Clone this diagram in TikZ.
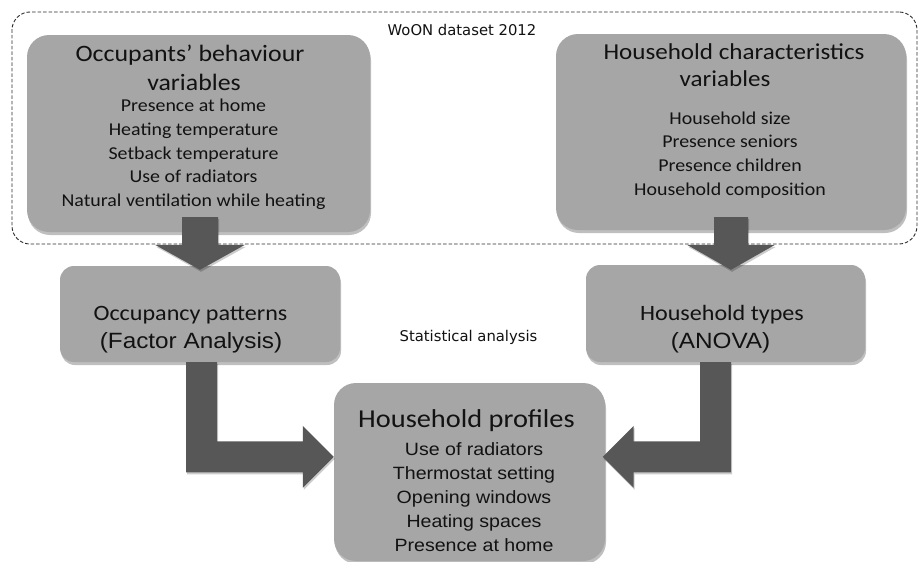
\documentclass[tikz,border=0pt]{standalone}
\usepackage{fontspec}
\setmainfont{Carlito}[FakeStretch=1.1]
\newfontfamily\arialf{Liberation Sans}[FakeStretch=1.1]
\newfontfamily\dvs{DejaVu Sans}
\usetikzlibrary{calc,shadows}
\definecolor{boxgray}{RGB}{166,166,166}
\definecolor{arrgray}{RGB}{87,87,87}
\definecolor{txtc}{RGB}{18,18,18}
\definecolor{dashc}{RGB}{45,45,45}
\tikzset{
  bigbox/.style={draw=none, fill=boxgray, rounded corners=22pt, inner sep=0pt,
    drop shadow={shadow xshift=1pt, shadow yshift=-3pt, opacity=0.25, fill=black}},
  midbox/.style={bigbox, rounded corners=14pt},
  wbox/.style={draw=dashc, line width=0.9pt, dash pattern=on 3.5pt off 2pt, rounded corners=18pt, inner sep=0pt},
  blockarrow/.style={fill=arrgray,
    drop shadow={shadow xshift=1pt, shadow yshift=-2pt, opacity=0.2, fill=black}},
  ln/.style={inner sep=0pt, anchor=base, text=txtc},
  ttl/.style={ln, font=\fontsize{22.8}{22.8}\selectfont},
  lst/.style={ln, font=\fontsize{18.1}{18.1}\selectfont},
  mtl/.style={ln, font=\fontsize{21.9}{21.9}\selectfont},
  mar/.style={ln, font=\arialf\fontsize{22.1}{22.1}\selectfont},
  ptl/.style={ln, font=\fontsize{25.8}{25.8}\selectfont},
  par/.style={ln, font=\arialf\fontsize{17.8}{17.8}\selectfont},
  note/.style={ln, font=\dvs\fontsize{14.8}{14.8}\selectfont}
}
\begin{document}
\begin{tikzpicture}[x=1pt,y=-1pt]
\useasboundingbox[fill=white] (0,0) rectangle (918,562);
% dashed frame
\node[wbox, minimum width=905pt, minimum height=232pt] (woon) at (464.5,128) {};
% boxes
\node[bigbox, minimum width=343pt, minimum height=197pt] (beh) at (198.5,133.5) {};
\node[bigbox, minimum width=350pt, minimum height=196pt] (hhc) at (731,132) {};
\node[midbox, minimum width=280pt, minimum height=96pt] (occ) at (200,314) {};
\node[midbox, minimum width=279pt, minimum height=97pt] (hht) at (725.5,313.5) {};
\node[bigbox, minimum width=271pt, minimum height=178pt] (prof) at (469.5,472) {};
% down arrows
\fill[blockarrow] let \p1=($(occ.north)+(0,4)$), \p2=($(beh.south)+(0,-15)$) in
  (\x1-18pt,\y2) -- (\x1+18pt,\y2) -- (\x1+18pt,\y1+25pt) -- (\x1+45pt,\y1+25pt)
  -- (\x1,\y1) -- (\x1-45pt,\y1+25pt) -- (\x1-18pt,\y1+25pt) -- cycle;
\fill[blockarrow] let \p1=($(hht.north)+(5.5,5)$), \p2=($(hhc.south)+(0,-13)$) in
  (\x1-17pt,\y2) -- (\x1+17pt,\y2) -- (\x1+17pt,\y1+25pt) -- (\x1+44pt,\y1+25pt)
  -- (\x1,\y1) -- (\x1-44pt,\y1+25pt) -- (\x1-17pt,\y1+25pt) -- cycle;
% elbow arrows
\fill[blockarrow] let \p1=($(occ.south)+(1.5,0)$), \p2=($(prof.north west)+(0,74)$) in
  (\x1-15.5pt,\y1) -- (\x1+15.5pt,\y1) -- (\x1+15.5pt,\y2+15.5pt) -- (\x2-31pt,\y2+15.5pt)
  -- (\x2-31pt,\y2+31pt) -- (\x2,\y2) -- (\x2-31pt,\y2-31pt) -- (\x2-31pt,\y2-15.5pt)
  -- (\x1-15.5pt,\y2-15.5pt) -- cycle;
\fill[blockarrow] let \p1=($(hht.south)+(-10,0)$), \p2=($(prof.north east)+(-2.5,74)$) in
  (\x1+15.5pt,\y1) -- (\x1-15.5pt,\y1) -- (\x1-15.5pt,\y2+15.5pt) -- (\x2+31pt,\y2+15.5pt)
  -- (\x2+31pt,\y2+31pt) -- (\x2,\y2) -- (\x2+31pt,\y2-31pt) -- (\x2+31pt,\y2-15.5pt)
  -- (\x1+15.5pt,\y2-15.5pt) -- cycle;
% labels
\node[note] (woonT) at (462,35.7) {WoON dataset 2012};
\node[note] (stat) at (468.5,341.5) {Statistical analysis};
% box 1
\node[ttl, font=\fontsize{23.5}{23.5}\selectfont] (behT1) at (190,61.7) {Occupants’ behaviour};
\node[ttl, font=\fontsize{23.5}{23.5}\selectfont] (behT2) at (194,90) {variables};
\foreach \t [count=\i] in {Presence at home, Heating temperature, Setback temperature, Use of radiators, Natural ventilation while heating}
  \node[lst] (behL\i) at (193.5,{111.7+23.75*(\i-1)}) {\t};
% box 2
\node[ttl] (hhcT1) at (734,59.3) {Household characteristics};
\node[ttl] (hhcT2) at (725,86.7) {variables};
\foreach \t [count=\i] in {Household size, Presence seniors, Presence children, Household composition}
  \node[lst] (hhcL\i) at (730,{124+23.7*(\i-1)}) {\t};
% box 3
\node[mtl] (occT1) at (190.5,320) {Occupancy patterns};
\node[mar] (occT2) at (191,348) {(Factor Analysis)};
% box 4
\node[mtl] (hhtT1) at (722,320) {Household types};
\node[mar] (hhtT2) at (720.5,348) {(ANOVA)};
% box 5
\node[ptl] (profT) at (466.5,427) {Household profiles};
\foreach \t [count=\i] in {Use of radiators, Thermostat setting, Opening windows, Heating spaces, Presence at home}
  \node[par] (profL\i) at (474,{455+24.1*(\i-1)}) {\t};
\end{tikzpicture}
\end{document}
